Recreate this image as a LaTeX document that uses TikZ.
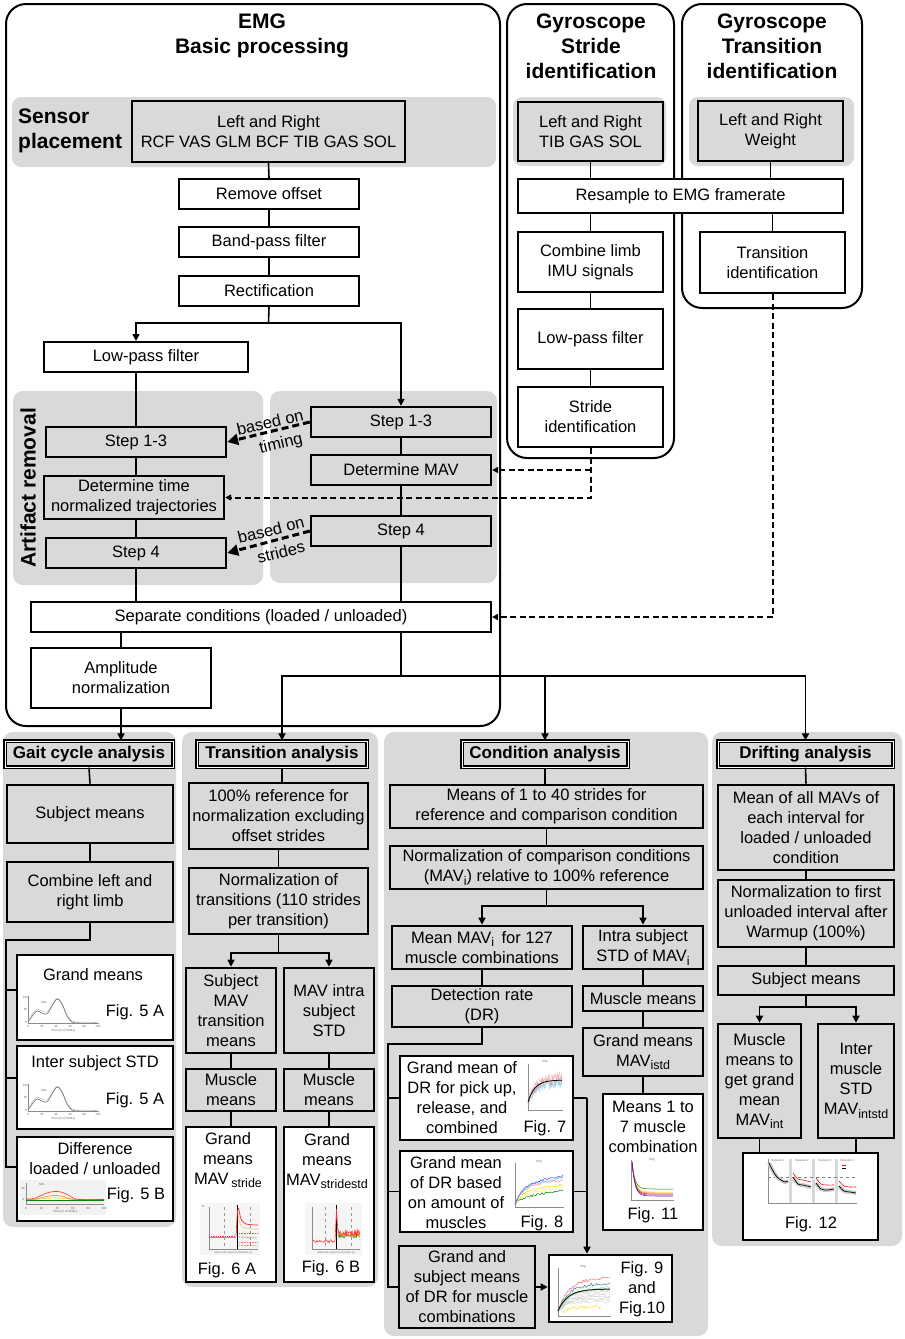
\documentclass[tikz,border=0pt]{standalone}
\usepackage{fontspec}
\setmainfont{Liberation Sans}
\usetikzlibrary{arrows.meta}
\definecolor{pg}{HTML}{D9D9D9}
\newcommand\fs{\fontsize{16.5}{20}\selectfont}
\newcommand\tbf{\fontsize{21}{25}\selectfont\bfseries}
\newcommand\hbf{\fontsize{17}{20}\selectfont\bfseries}
\newcommand\tn{\fontsize{3}{3.5}\selectfont}
\newcommand\mysub[1]{\raisebox{-3.5pt}{\fontsize{12.5}{12.5}\selectfont #1}}
\newcommand\bx[7]{\node[#6,minimum width={#4-#2},minimum height={#5-#3}] (#1) at ({(#2+#4)/2},{(#3+#5)/2}) {#7};}
\newcommand\gaitplot[2]{%
\begin{scope}[shift={(#1,#2)}]
\draw[black!45,line width=.35pt] (5,1)--(5,28)--(76,28);
\node[tinyt] at (2.5,2) {100};
\node[tinyt] at (2.5,14.5) {50};
\node[tinyt] at (3,27) {0};
\foreach \t [count=\i from 0] in {0,20,40,60,80,100} \node[tinyt] at ({5+14*\i},31.5) {\t};
\node[tinyt] at (40,35.5) {Time [\% of Stride]};
\node[tinyt] at (21,7) {SOL};
\draw[black!25,line width=.5pt] plot[smooth] coordinates {(5,26)(10,18)(14,14)(19,16)(24,17)(29,10)(34,3)(39,8)(44,20)(49,26)(56,27)(74,27)};
\draw[black!55,line width=.6pt] plot[smooth] coordinates {(5,27)(10,20)(14,16)(19,18)(24,19)(29,11)(34,4)(39,9)(44,21)(49,27)(56,28)(74,28)};
\end{scope}}
\begin{document}
\begin{tikzpicture}[x=1pt,y=-1pt,
 ln/.style={line width=1.6pt},
 arr/.style={ln,-{Triangle[length=7pt,width=7pt]}},
 dsh/.style={line width=2pt,dash pattern=on 6pt off 3.5pt},
 darr/.style={dsh,-{Triangle[length=6pt,width=6pt]}},
 bdarr/.style={line width=3pt,dash pattern=on 7pt off 4pt,-{Triangle[length=11pt,width=11pt]}},
 wbox/.style={draw,fill=white,line width=2pt,inner sep=1pt,align=center,font=\fs},
 gbox/.style={wbox,fill=pg,line width=2.4pt},
 lbox/.style={wbox,fill=pg,line width=2.6pt},
 lwbox/.style={wbox,line width=2.6pt},
 hbox/.style={draw,fill=pg,line width=1.2pt,double=white,double distance=0.8pt,inner sep=0pt,font=\hbf},
 panel/.style={fill=pg,rounded corners=10pt,inner sep=0pt},
 band/.style={fill=pg,rounded corners=9pt,inner sep=0pt},
 outer/.style={draw,line width=2pt,rounded corners=20pt,inner sep=0pt},
 tl/.style={font=\fs,align=center,inner sep=0pt},
 tinyt/.style={font=\tn,inner sep=0pt,text=black!60},
]
\useasboundingbox (0,0) rectangle (905,1339);
\pgfmathsetseed{7}
% outer containers
\bx{emgbox}{6}{4}{500}{726}{outer}{}
\bx{gsbox}{507}{4}{674}{458}{outer}{}
\bx{gtbox}{682}{4}{862}{308}{outer}{}
% bands and panels
\bx{sband}{12}{97}{496}{167}{band}{}
\bx{gsband}{513}{97}{666}{166}{band}{}
\bx{gtband}{689}{97}{854}{166}{band}{}
\bx{arL}{13}{391}{263}{585}{panel}{}
\bx{arR}{270}{391}{497}{583}{panel}{}
\bx{pgait}{3}{732}{176}{1227}{panel}{}
\bx{ptrans}{182}{732}{378}{1287}{panel}{}
\bx{pcond}{384}{732}{708}{1336}{panel}{}
\bx{pdrift}{712}{732}{902}{1246}{panel}{}
% titles
\node[font=\tbf,align=center,inner sep=0pt] (emgT) at (262,35.5) {EMG\\Basic processing};
\node[font=\tbf,align=center,inner sep=0pt] (gsT) at (591,46) {Gyroscope\\Stride\\identification};
\node[font=\tbf,align=center,inner sep=0pt] (gtT) at (772,46) {Gyroscope\\Transition\\identification};
\node[font=\tbf,align=left,anchor=west,inner sep=0pt] (spT) at (18,130.5) {Sensor\\placement};
\node[font=\tbf,rotate=90,inner sep=0pt] (arT) at (28,488) {Artifact removal};
% EMG boxes
\bx{sens}{132}{101}{405}{162}{gbox}{Left and Right\\RCF VAS GLM BCF TIB GAS SOL}
\bx{ro}{179}{179}{359}{209}{wbox}{Remove offset}
\bx{bp}{179}{227}{359}{257}{wbox}{Band-pass filter}
\bx{rect}{179}{276}{359}{306}{wbox}{Rectification}
\bx{lpf}{44}{342}{248}{372}{wbox}{Low-pass filter}
\bx{s13L}{46}{427}{226}{457}{gbox}{Step 1-3}
\bx{dtn}{44}{476}{224}{519}{gbox}{Determine time\\normalized trajectories}
\bx{s4L}{46}{538}{226}{568}{gbox}{Step 4}
\bx{s13R}{311}{407}{491}{437}{gbox}{Step 1-3}
\bx{mav}{311}{455}{491}{485}{gbox}{Determine MAV}
\bx{s4R}{311}{516}{491}{546}{gbox}{Step 4}
\bx{sep}{31}{602}{491}{632}{wbox}{Separate conditions (loaded / unloaded)}
\bx{amp}{31}{648}{211}{708}{wbox}{Amplitude\\normalization}
% Gyroscope boxes
\bx{gsL}{518}{102}{663}{161}{gbox}{Left and Right\\TIB GAS SOL}
\bx{gtW}{698}{101}{843}{161}{gbox}{Left and Right\\Weight}
\bx{res}{518}{179}{843}{213}{wbox}{Resample to EMG framerate}
\bx{comb}{518}{232}{663}{292}{wbox}{Combine limb\\IMU signals}
\bx{lpg}{518}{309}{663}{369}{wbox}{Low-pass filter}
\bx{sid}{518}{387}{663}{447}{wbox}{Stride\\identification}
\bx{tid}{700}{232}{845}{293}{wbox}{Transition\\identification}
% based-on labels
\node[font=\fs,rotate=13,inner sep=0pt] (bo1) at (270,422) {based on};
\node[font=\fs,rotate=13,inner sep=0pt] (ti1) at (281,444) {timing};
\node[font=\fs,rotate=14,inner sep=0pt] (bo2) at (271,530) {based on};
\node[font=\fs,rotate=14,inner sep=0pt] (st2) at (281,552) {strides};
% Gait cycle analysis
\bx{gaitH}{5}{741}{173}{767}{hbox}{Gait cycle analysis}
\bx{gsm}{7}{785}{173}{843}{lbox}{Subject means}
\bx{gcl}{7}{862}{173}{922}{lbox}{Combine left and\\right limb}
\bx{ggm}{17}{955}{173}{1040}{lwbox}{}
\bx{gis}{17}{1046}{173}{1129}{lwbox}{}
\bx{gdf}{17}{1137}{173}{1221}{lwbox}{}
\node[tl] (ggmT) at (93,975) {Grand means};
\node[tl] (ggmF) at (135,1012) {Fig. 5 A};
\node[tl] (gisT) at (95,1063) {Inter subject STD};
\node[tl] (gisF) at (135,1100) {Fig. 5 A};
\node[tl] (gdfT) at (95,1159) {Difference\\loaded / unloaded};
\node[tl] (gdfF) at (136,1195) {Fig. 5 B};
% Transition analysis
\bx{transH}{197}{741}{367}{767}{hbox}{Transition analysis}
\bx{tref}{189}{783}{368}{849}{lbox}{100\% reference for\\normalization excluding\\offset strides}
\bx{tnorm}{189}{868}{368}{934}{lbox}{Normalization of\\transitions (110 strides\\per transition)}
\bx{tsm}{186}{968}{276}{1053}{lbox}{Subject\\MAV\\transition\\means}
\bx{tstd}{284}{968}{374}{1053}{lbox}{MAV intra\\subject\\STD}
\bx{tmm1}{186}{1069}{276}{1111}{lbox}{Muscle\\means}
\bx{tmm2}{284}{1069}{374}{1111}{lbox}{Muscle\\means}
\bx{tg1}{186}{1127}{276}{1282}{lwbox}{}
\bx{tg2}{284}{1127}{374}{1282}{lwbox}{}
\node[tl] (tg1T) at (228,1160) {Grand\\means\\MAV\,\mysub{stride}};
\node[tl] (tg1F) at (227,1270) {Fig. 6 A};
\node[tl] (tg2T) at (327,1161) {Grand\\means\\MAV\mysub{stridestd}};
\node[tl] (tg2F) at (331,1268) {Fig. 6 B};
% Condition analysis
\bx{condH}{462}{741}{628}{767}{hbox}{Condition analysis}
\bx{cm40}{390}{785}{703}{828}{lbox}{Means of 1 to 40 strides for\\reference and comparison condition}
\bx{cnorm}{390}{846}{703}{889}{lbox}{Normalization of comparison conditions\\(MAV\mysub{i}) relative to 100\% reference}
\bx{cmav}{392}{926}{572}{969}{lbox}{Mean MAV\mysub{i}\, for 127\\muscle combinations}
\bx{cstd}{583}{926}{703}{969}{lbox}{Intra subject\\STD of MAV\mysub{i}}
\bx{cdr}{392}{986}{572}{1027}{lbox}{Detection rate\\(DR)}
\bx{cmm}{583}{986}{703}{1011}{lbox}{Muscle means}
\bx{cgm}{583}{1028}{703}{1076}{lbox}{Grand means\\MAV\mysub{istd}}
\bx{cp}{400}{1056}{573}{1140}{lwbox}{}
\bx{cb}{400}{1151}{573}{1232}{lwbox}{}
\bx{cgs}{399}{1246}{535}{1328}{lbox}{Grand and\\subject means\\of DR for muscle\\combinations}
\bx{cf9}{549}{1255}{672}{1322}{lwbox}{}
\bx{c17}{603}{1094}{703}{1230}{lwbox}{}
\node[tl] (cpT) at (462,1098) {Grand mean of\\DR for pick up,\\release, and\\combined};
\node[tl] (cpF) at (545,1128) {Fig. 7};
\node[tl] (cbT) at (456,1193) {Grand mean\\of DR based\\on amount of\\muscles};
\node[tl] (cbF) at (542,1223) {Fig. 8};
\node[tl] (cf9T) at (642,1289) {Fig. 9\\and\\Fig.10};
\node[tl] (c17T) at (653,1127) {Means 1 to\\7 muscle\\combination};
\node[tl] (c17F) at (653,1215) {Fig. 11};
% Drifting analysis
\bx{driftH}{718}{741}{893}{767}{hbox}{Drifting analysis}
\bx{dm}{718}{785}{894}{870}{lbox}{Mean of all MAVs of\\each interval for\\loaded / unloaded\\condition}
\bx{dn}{718}{880}{894}{947}{lbox}{Normalization to first\\unloaded interval after\\Warmup (100\%)}
\bx{dsm}{718}{966}{894}{995}{lbox}{Subject means}
\bx{dmg}{718}{1024}{801}{1138}{lbox}{Muscle\\means to\\get grand\\mean\\MAV\mysub{int}}
\bx{dis}{818}{1024}{894}{1138}{lbox}{Inter\\muscle\\STD\\MAV\mysub{intstd}}
\bx{dfig}{743}{1153}{878}{1240}{lwbox}{}
\node[tl] (dfigF) at (811,1224) {Fig. 12};
% ---------------- connectors: EMG
\coordinate (jr) at (268.5,323);
\draw[ln] (sens.south) -- (ro.north);
\draw[ln] (ro.south) -- (bp.north);
\draw[ln] (bp.south) -- (rect.north);
\draw[ln] (rect.south) -- (jr);
\draw[arr] (jr) -| (lpf.north -| s13L.north);
\draw[arr] (jr) -| (s13R.north);
\draw[ln] (lpf.south -| s13L.north) -- (s13L.north);
\draw[ln] (s13L.south) -- (s13L.south |- dtn.north);
\draw[ln] (dtn.south -| s4L.north) -- (s4L.north);
\draw[ln] (s4L.south) -- (s4L.south |- sep.north);
\draw[ln] (s13R.south) -- (mav.north);
\draw[ln] (mav.south) -- (s4R.north);
\draw[ln] (s4R.south) -- (s4R.south |- sep.north);
\draw[ln] (sep.south -| amp.north) -- (amp.north);
\draw[arr] (amp.south) -- (amp.south |- gaitH.north);
\coordinate (jb) at (401,676);
\draw[ln] (sep.south -| jb) -- (jb);
\draw[arr] (jb) -| (transH.north);
\draw[arr] (jb) -| (condH.north);
\draw[arr] (jb) -| (driftH.north);
\draw[bdarr] (s13R.west) -- (s13L.east);
\draw[bdarr] (s4R.west) -- (s4L.east);
% gyroscope
\draw[ln] (gsL.south) -- (gsL.south |- res.north);
\draw[ln] (gtW.south) -- (gtW.south |- res.north);
\draw[ln] (res.south -| comb.north) -- (comb.north);
\draw[ln] (comb.south) -- (lpg.north);
\draw[ln] (lpg.south) -- (sid.north);
\draw[ln] (res.south -| tid.north) -- (tid.north);
\draw[darr] (sid.south) |- (dtn.east);
\draw[darr] (sid.south |- mav.east) -- (mav.east);
\draw[darr] (tid.south) |- (sep.east);
% gait
\draw[ln] (gaitH.south) -- (gsm.north);
\draw[ln] (gsm.south) -- (gcl.north);
\coordinate (gv1) at (6,940);
\coordinate (gv2) at (6,1167);
\coordinate (gs1) at (6,990);
\coordinate (gs2) at (6,1078);
\draw[ln] (gcl.south) |- (gv1) -- (gv2) -- (gv2 -| gdf.west);
\draw[ln] (gs1) -- (gs1 -| ggm.west);
\draw[ln] (gs2) -- (gs2 -| gis.west);
% transition
\draw[ln] (transH.south) -- (transH.south |- tref.north);
\draw[ln] (tref.south) -- (tnorm.north);
\coordinate (tj) at (278.5,953);
\draw[ln] (tnorm.south) -- (tj);
\draw[arr] (tj) -| (tsm.north);
\draw[arr] (tj) -| (tstd.north);
\draw[ln] (tsm.south) -- (tmm1.north);
\draw[ln] (tmm1.south) -- (tg1.north);
\draw[ln] (tstd.south) -- (tmm2.north);
\draw[ln] (tmm2.south) -- (tg2.north);
% condition
\draw[ln] (condH.south) -- (condH.south |- cm40.north);
\draw[ln] (cm40.south) -- (cnorm.north);
\coordinate (cj) at (546.5,906);
\draw[ln] (cnorm.south) -- (cj);
\draw[arr] (cj) -| (cmav.north);
\draw[arr] (cj) -| (cstd.north);
\draw[ln] (cmav.south) -- (cdr.north);
\draw[ln] (cstd.south) -- (cmm.north);
\draw[ln] (cmm.south) -- (cgm.north);
\draw[ln] (cgm.south) -- (cgm.south |- c17.north);
\coordinate (cj1) at (388,1044);
\draw[ln] (cdr.south) |- (cj1) -- (cj1 |- cgs.west) -- (cgs.west);
\draw[ln] (cj1 |- cp.west) -- (cp.west);
\draw[ln] (cj1 |- cb.west) -- (cb.west);
\coordinate (cv) at (587,1098);
\draw[ln] (cp.east) -- (cp.east -| cv);
\draw[ln] (cb.east) -- (cb.east -| cv);
\draw[arr] (cv) -- (cv |- cf9.north);
\draw[arr] (cgs.east) -- (cgs.east -| cf9.west);
% drifting
\draw[ln] (driftH.south) -- (dm.north);
\draw[ln] (dm.south) -- (dn.north);
\draw[ln] (dn.south) -- (dsm.north);
\coordinate (dj) at (806,1007);
\draw[ln] (dsm.south) -- (dj);
\draw[arr] (dj) -| (dmg.north);
\draw[arr] (dj) -| (dis.north);
\draw[ln] (dmg.south) -- (dmg.south |- dfig.north);
\draw[ln] (dis.south) -- (dis.south |- dfig.north);
% ---------------- thumbnails
\gaitplot{23}{995}
\gaitplot{23}{1083}
% Fig 5 B
\begin{scope}[shift={(20,1180)}]
\fill[black!5] (0,0) rectangle (86,35);
\draw[black!45,line width=.35pt] (6,3)--(6,24)--(84,24);
\node[tinyt] at (3,8) {10};
\node[tinyt] at (3.5,19) {0};
\node[tinyt] at (22,4) {SOL};
\foreach \t [count=\i from 0] in {0,20,40,60,80,100} \node[tinyt] at ({6+15.6*\i},28) {\t};
\node[tinyt] at (45,32) {Time [\% of Stride]};
\draw[green!55!black,line width=.5pt] (6,20)--(84,20);
\draw[yellow!70!orange,line width=.5pt] plot[smooth] coordinates {(6,19.6)(18,19.2)(30,18)(42,18.2)(54,19.4)(84,19.6)};
\draw[orange,line width=.5pt] plot[smooth] coordinates {(6,19.5)(16,19)(24,17)(34,15.5)(44,16.5)(52,19)(84,19.5)};
\draw[red!80,line width=.6pt] plot[smooth] coordinates {(6,19)(14,18.5)(22,15)(30,12)(38,11.5)(44,13)(50,16)(54,18.5)(60,19.5)(84,19.5)};
\end{scope}
% Fig 6 A
\begin{scope}[shift={(200,1203)}]
\fill[black!4] (0,0) rectangle (60,52);
\node[tinyt] at (3,3) {A};
\draw[black!45,line width=.35pt] (9,4)--(9,46)--(58,46);
\draw[black!40,line width=.3pt,dashed] (24,4)--(24,46);
\draw[black!40,line width=.3pt,dashed] (50,4)--(50,46);
\draw[black,line width=.9pt] (37,2)--(37,46);
\draw[orange,line width=.5pt] (9,34)--(36,34);
\draw[red!80,line width=.8pt,densely dotted] (9,33)--(36,33);
\draw[red!85,line width=.7pt] plot[smooth] coordinates {(36,33)(38,5)(41,16)(46,21)(58,22)};
\draw[orange,line width=.6pt,densely dotted] plot[smooth] coordinates {(38,10)(42,24)(58,26)};
\draw[red!70,line width=.6pt,densely dotted] (39,30)--(58,30);
\draw[green!50!black,line width=.6pt,densely dotted] (39,34)--(58,35);
\draw[red!60,line width=.6pt,densely dotted] (39,39)--(58,39);
\draw[green!50!black,line width=.6pt,densely dotted] (39,42)--(58,43);
\node[tinyt,font=\fontsize{2.5}{3}\selectfont] at (33,50) {Stride with respect to transition [n]};
\end{scope}
% Fig 6 B
\begin{scope}[shift={(305,1203)}]
\fill[black!4] (0,0) rectangle (57,52);
\draw[black!45,line width=.35pt] (7,4)--(7,46)--(55,46);
\draw[black!40,line width=.3pt,dashed] (20,4)--(20,46);
\draw[black!40,line width=.3pt,dashed] (46,4)--(46,46);
\draw[black,line width=.9pt] (31,2)--(31,46);
\draw[red!80,line width=.5pt] plot[domain=8:30,samples=30] (\x,{38+1.5*rand});
\draw[red!80,line width=.6pt] (30,38)--(31.5,6)--(33,30);
\draw[green!55!black,line width=.4pt] plot[domain=33:55,samples=40] (\x,{33+2*rand});
\draw[orange,line width=.4pt] plot[domain=33:55,samples=40] (\x,{31+3*rand});
\draw[red!80,line width=.4pt] plot[domain=33:55,samples=40] (\x,{30+3*rand});
\node[tinyt,font=\fontsize{2.5}{3}\selectfont] at (31,50) {Stride with respect to transition [n]};
\end{scope}
% Fig 7
\begin{scope}[shift={(525,1060)}]
\node[tinyt] at (20,2) {Pkg};
\draw[black!45,line width=.35pt] (3,4)--(3,50)--(38,50);
\draw[cyan!70!black,opacity=.5,line width=.4pt] plot[domain=3:37,samples=60] (\x,{44-22*(1-exp(-(\x-3)/6))+5*rand});
\draw[cyan!60,opacity=.5,line width=.4pt] plot[domain=3:37,samples=60] (\x,{44-20*(1-exp(-(\x-3)/6))+6*rand});
\draw[red!50,opacity=.7,line width=.4pt] plot[domain=3:37,samples=60] (\x,{42-24*(1-exp(-(\x-3)/9))+5*rand});
\draw[red!40,opacity=.7,line width=.4pt] plot[domain=3:37,samples=60] (\x,{40-25*(1-exp(-(\x-3)/9))+4*rand});
\draw[black,line width=.8pt] plot[smooth,domain=3:37,samples=20] (\x,{42-22*(1-exp(-(\x-3)/7))});
\end{scope}
% Fig 8
\begin{scope}[shift={(512,1160)}]
\node[tinyt] at (27,2) {Pkg};
\draw[black!45,line width=.35pt] (3,3)--(3,47)--(52,47);
\foreach \c/\a/\b in {green!55!black/6/8,yellow!60/11/5,yellow!80!orange/14/5,red!40/18/6,cyan!70/19/7,blue!70/20/8}
  \draw[\c,line width=.5pt] plot[domain=3:51,samples=40] (\x,{44-\a*(1-exp(-(\x-3)/8))-\b*(\x-3)/48+1.2*rand});
\end{scope}
% Fig 9
\begin{scope}[shift={(555,1265)}]
\node[tinyt] at (28,2) {Pkg};
\draw[black!45,line width=.35pt] (3,3)--(3,51)--(56,51);
\foreach \k in {1,...,10}
  \draw[black!22,line width=.3pt] plot[domain=3:55,samples=30] (\x,{46-(8+1.6*\k)*(1-exp(-(\x-3)/10))+1.5*rand});
\draw[red!60,line width=.5pt] plot[domain=3:55,samples=40] (\x,{46-30*(1-exp(-(\x-3)/10))-4*(\x-3)/52+1.5*rand});
\draw[cyan!60!black,line width=.5pt] plot[domain=3:55,samples=40] (\x,{46-26*(1-exp(-(\x-3)/10))-2*(\x-3)/52+1.5*rand});
\draw[black!80!green,line width=1pt] plot[smooth,domain=3:55,samples=20] (\x,{46-22*(1-exp(-(\x-3)/10))});
\draw[yellow!80!orange,line width=.5pt] plot[domain=8:46,samples=30] (\x,{47-5*(1-exp(-(\x-8)/5))+1.5*rand});
\end{scope}
% Fig 11
\begin{scope}[shift={(628,1158)}]
\node[tinyt] at (24,2) {Pkg};
\draw[black!45,line width=.35pt] (3,2)--(3,42)--(46,42);
\foreach \c/\e in {green!55!black/31,yellow!80!orange/34,orange/35,red/36,blue!70/37,violet/38}
  \draw[\c,line width=.5pt] plot[smooth,domain=4:45,samples=30] (\x,{\e-(\e-4)*exp(-(\x-4)/3)});
\end{scope}
% Fig 12
\begin{scope}[shift={(765,1157)}]
\draw[black!45,line width=.35pt] (3,2)--(3,46)--(92,46);
\fill[black!15] (24,2) rectangle (27,46);
\fill[black!15] (47,2) rectangle (50,46);
\fill[black!15] (70,2) rectangle (73,46);
\node[tinyt] at (13,3) {Session 1};
\node[tinyt] at (37,3) {Session 2};
\node[tinyt] at (60,3) {Session 3};
\node[tinyt] at (82,3) {Session 4};
\draw[black!50,dashed,line width=.3pt] (3,20)--(92,20);
\draw[black!20,line width=4pt] plot[smooth] coordinates {(4,6)(8,14)(12,20)(16,23)(20,25)(23,24)};
\draw[black!20,line width=4pt] plot[smooth] coordinates {(28,20)(33,27)(38,28)(46,30)};
\draw[black!20,line width=4pt] plot[smooth] coordinates {(51,26)(56,32)(62,33)(69,32)};
\draw[black!20,line width=4pt] plot[smooth] coordinates {(74,29)(79,34)(85,35)(91,36)};
\draw[black,line width=.7pt] plot[smooth] coordinates {(4,6)(8,14)(12,20)(16,23)(20,25)(23,24)};
\draw[red,line width=.6pt] plot[smooth] coordinates {(28,16)(33,22)(38,23)(46,25)};
\draw[black,line width=.7pt] plot[smooth] coordinates {(28,20)(33,27)(38,28)(46,30)};
\draw[red,line width=.6pt] plot[smooth] coordinates {(51,21)(56,27)(62,28)(69,28)};
\draw[black,line width=.7pt] plot[smooth] coordinates {(51,26)(56,32)(62,33)(69,32)};
\draw[red,line width=.6pt] plot[smooth] coordinates {(74,24)(79,29)(85,30)(91,30)};
\draw[black,line width=.7pt] plot[smooth] coordinates {(74,29)(79,34)(85,35)(91,36)};
\draw[red,line width=.6pt] (77,8)--(81,8);
\draw[black,line width=.6pt] (77,11)--(81,11);
\end{scope}
\end{tikzpicture}
\end{document}
